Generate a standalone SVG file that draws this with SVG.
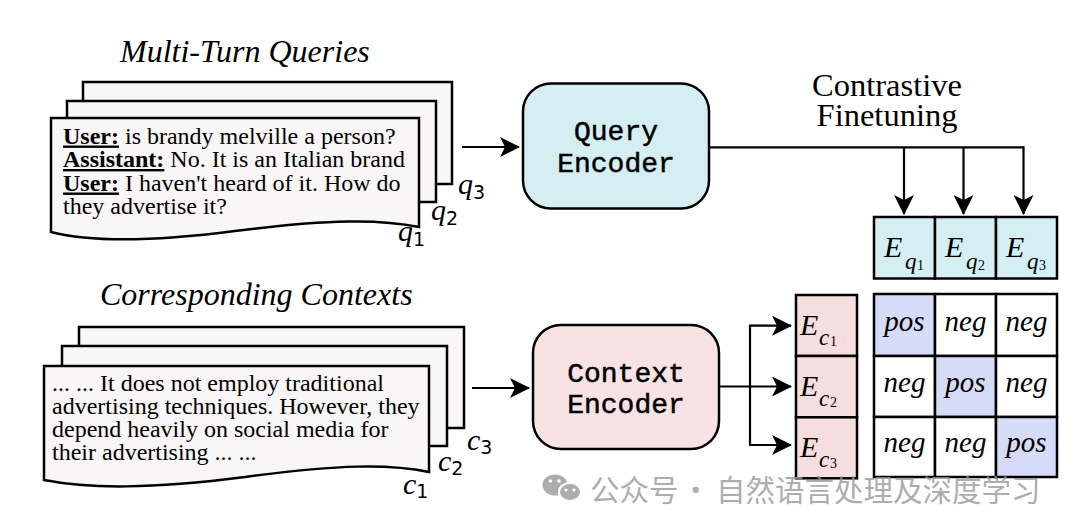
<svg xmlns="http://www.w3.org/2000/svg" width="1074" height="530" viewBox="0 0 1074 530">
<defs>
<marker id="ah" viewBox="0 0 20 20" refX="19" refY="10" markerWidth="20" markerHeight="20" markerUnits="userSpaceOnUse" orient="auto">
<path d="M0,0 L20,10 L0,20 L5,10 z" fill="#000"/>
</marker>
</defs>
<style>
.page{fill:#f8f6f7;stroke:#000;stroke-width:2.5;stroke-linejoin:miter}
.body{font-family:"Liberation Serif",serif;font-size:24px;fill:#000}
.title{font-family:"Liberation Serif",serif;font-style:italic;font-size:32px;fill:#000}
.b{font-weight:bold;text-decoration:underline}
.lab{font-family:"Liberation Serif",serif;font-style:italic;font-size:30px;fill:#000}
.sub{font-family:"DejaVu Sans",sans-serif;font-style:normal;font-size:19px}
.enc{font-family:"Liberation Mono",monospace;font-size:28px;fill:#000;stroke:#000;stroke-width:0.5;text-anchor:middle}
.box{stroke:#000;stroke-width:2.5}
.conn{fill:none;stroke:#000;stroke-width:2.2}
.cell{stroke:#000;stroke-width:2.5}
.m{font-family:"Liberation Serif",serif;font-style:italic;font-size:29px;fill:#000;text-anchor:middle}
.E{font-family:"Liberation Serif",serif;font-style:italic;font-size:30px;fill:#000}
.es{font-family:"Liberation Serif",serif;font-style:italic;font-size:23px}
.en{font-family:"Liberation Serif",serif;font-style:normal;font-size:14px}
.wm{font-family:"Noto Sans CJK SC",sans-serif;font-size:29.5px;fill:#999}
</style>
<rect width="1074" height="530" fill="#fff"/>

<g id="queries">
<text class="title" x="120" y="62">Multi-Turn Queries</text>
<rect class="page" x="83" y="82" width="369" height="102"/>
<rect class="page" x="67" y="101" width="369" height="101"/>
<path class="page" d="M51,118 H419 V227 C380,219 330,219 235,231 C150,242 90,242 51,232 Z"/>
<text class="body" x="63" y="143.5"><tspan class="b">User:</tspan> is brandy melville a person?</text>
<text class="body" x="63" y="167"><tspan class="b">Assistant:</tspan> No. It is an Italian brand</text>
<text class="body" x="63" y="190.5"><tspan class="b">User:</tspan> I haven't heard of it. How do</text>
<text class="body" x="63" y="214">they advertise it?</text>
<text class="lab" x="458" y="194">q<tspan class="sub" dy="5">3</tspan></text>
<text class="lab" x="431" y="220">q<tspan class="sub" dy="5">2</tspan></text>
<text class="lab" x="398" y="241">q<tspan class="sub" dy="5">1</tspan></text>
</g>

<g id="contexts">
<text class="title" x="100" y="305">Corresponding Contexts</text>
<rect class="page" x="79" y="327" width="385" height="101"/>
<rect class="page" x="62" y="346" width="385" height="100"/>
<path class="page" d="M44,366 H429 V472 C390,464 340,464 245,477 C150,489 90,489 44,480 Z"/>
<text class="body" x="52" y="390.5">... ... It does not employ traditional</text>
<text class="body" x="52" y="413.8">advertising techniques. However, they</text>
<text class="body" x="52" y="437">depend heavily on social media for</text>
<text class="body" x="52" y="460.3">their advertising ... ...</text>
<text class="lab" x="467" y="450">c<tspan class="sub" dy="4">3</tspan></text>
<text class="lab" x="438" y="471">c<tspan class="sub" dy="4">2</tspan></text>
<text class="lab" x="403" y="494">c<tspan class="sub" dy="4">1</tspan></text>
</g>

<g id="query-encoder">
<rect class="box" x="523" y="83.5" width="186" height="125" rx="28" fill="#d4eef2"/>
<text class="enc" x="616" y="140">Query</text>
<text class="enc" x="616" y="171.5">Encoder</text>
</g>

<g id="context-encoder">
<rect class="box" x="533" y="325" width="186" height="124" rx="28" fill="#f9e2e3"/>
<text class="enc" x="626" y="381.5">Context</text>
<text class="enc" x="626" y="413">Encoder</text>
</g>

<g id="contrastive-label">
<text x="887" y="96" font-family="Liberation Serif, serif" font-size="32.5" text-anchor="middle">Contrastive</text>
<text x="887" y="126" font-family="Liberation Serif, serif" font-size="32.5" text-anchor="middle">Finetuning</text>
</g>

<g id="connectors">
<line class="conn" x1="462" y1="147" x2="519" y2="147" marker-end="url(#ah)"/>
<line class="conn" x1="472" y1="388" x2="529" y2="388" marker-end="url(#ah)"/>
<path class="conn" d="M709,147.3 H1023.5"/>
<line class="conn" x1="904" y1="147.3" x2="904" y2="214" marker-end="url(#ah)"/>
<line class="conn" x1="963.5" y1="147.3" x2="963.5" y2="214" marker-end="url(#ah)"/>
<line class="conn" x1="1023.5" y1="146.2" x2="1023.5" y2="214" marker-end="url(#ah)"/>
<line class="conn" x1="719" y1="386.5" x2="791" y2="386.5" marker-end="url(#ah)"/>
<path class="conn" d="M750,445 V325.7"/>
<line class="conn" x1="748.9" y1="325.7" x2="791" y2="325.7" marker-end="url(#ah)"/>
<line class="conn" x1="748.9" y1="445" x2="791" y2="445" marker-end="url(#ah)"/>
</g>

<g id="query-embeddings">
<rect class="cell" x="874" y="217" width="61" height="61.5" fill="#d4eef2"/>
<rect class="cell" x="935" y="217" width="61" height="61.5" fill="#d4eef2"/>
<rect class="cell" x="996" y="217" width="61" height="61.5" fill="#d4eef2"/>
<text class="E" x="884" y="256.5">E<tspan class="es" x="905" y="269">q</tspan><tspan class="en" x="917" y="270">1</tspan></text>
<text class="E" x="945" y="256.5">E<tspan class="es" x="966" y="269">q</tspan><tspan class="en" x="978" y="270">2</tspan></text>
<text class="E" x="1006" y="256.5">E<tspan class="es" x="1027" y="269">q</tspan><tspan class="en" x="1039" y="270">3</tspan></text>
</g>

<g id="context-embeddings">
<rect class="cell" x="796" y="295" width="61" height="61" fill="#f6dedf"/>
<rect class="cell" x="796" y="356" width="61" height="61.3" fill="#f6dedf"/>
<rect class="cell" x="796" y="417.3" width="61" height="61" fill="#f6dedf"/>
<text class="E" x="800" y="335">E<tspan class="es" x="819" y="345">c</tspan><tspan class="en" x="830" y="346" font-size="12">1</tspan></text>
<text class="E" x="800" y="396">E<tspan class="es" x="819" y="406">c</tspan><tspan class="en" x="830" y="407" font-size="12">2</tspan></text>
<text class="E" x="800" y="457">E<tspan class="es" x="819" y="467">c</tspan><tspan class="en" x="830" y="468" font-size="12">3</tspan></text>
</g>

<g id="similarity-matrix">
<rect class="cell" x="874" y="294" width="61" height="62" fill="#d6dcf8"/>
<rect class="cell" x="935" y="294" width="61" height="62" fill="#fff"/>
<rect class="cell" x="996" y="294" width="61" height="62" fill="#fff"/>
<rect class="cell" x="874" y="356" width="61" height="61" fill="#fff"/>
<rect class="cell" x="935" y="356" width="61" height="61" fill="#d6dcf8"/>
<rect class="cell" x="996" y="356" width="61" height="61" fill="#fff"/>
<rect class="cell" x="874" y="417" width="61" height="60" fill="#fff"/>
<rect class="cell" x="935" y="417" width="61" height="60" fill="#fff"/>
<rect class="cell" x="996" y="417" width="61" height="60" fill="#d6dcf8"/>
<text class="m" x="904.5" y="331">pos</text>
<text class="m" x="965.5" y="331">neg</text>
<text class="m" x="1026.5" y="331">neg</text>
<text class="m" x="904.5" y="392">neg</text>
<text class="m" x="965.5" y="392">pos</text>
<text class="m" x="1026.5" y="392">neg</text>
<text class="m" x="904.5" y="452">neg</text>
<text class="m" x="965.5" y="452">neg</text>
<text class="m" x="1026.5" y="452">pos</text>
</g>

<g id="watermark" opacity="0.8">
<ellipse cx="555" cy="485" rx="12.5" ry="10.5" fill="#999"/>
<ellipse cx="570" cy="492" rx="11" ry="9" fill="#999" stroke="#fff" stroke-width="2"/>
<circle cx="550.5" cy="481" r="1.8" fill="#fff"/>
<circle cx="559" cy="481" r="1.8" fill="#fff"/>
<circle cx="566" cy="490" r="1.5" fill="#fff"/>
<circle cx="574" cy="490" r="1.5" fill="#fff"/>
<text class="wm" x="590" y="501">公众号</text>
<text class="wm" x="681" y="501">·</text>
<text class="wm" x="716" y="501">自然语言处理及深度学习</text>
</g>
</svg>
